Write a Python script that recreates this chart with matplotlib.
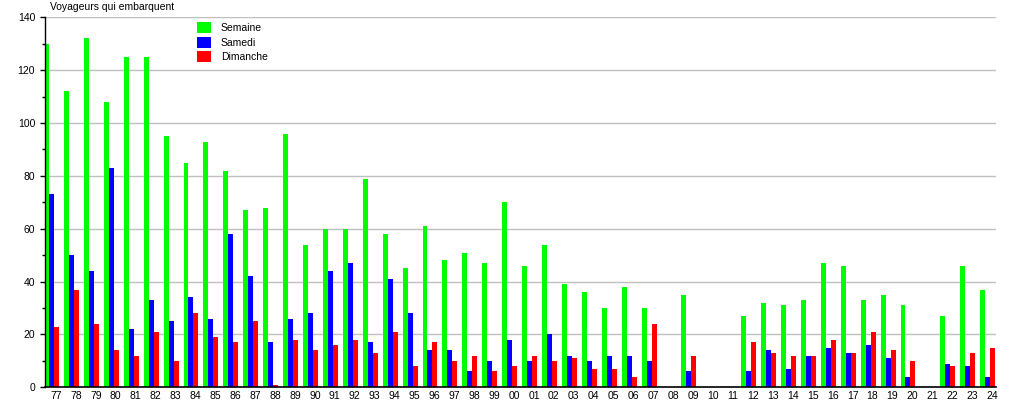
import numpy as np
import matplotlib
matplotlib.use("Agg")
import matplotlib.pyplot as plt
from matplotlib.ticker import MultipleLocator

plt.rcParams['font.family'] = ['Liberation Sans', 'DejaVu Sans']

# years 1977 -> 2024, two-digit labels
years = ['77', '78', '79', '80', '81', '82', '83', '84', '85', '86', '87', '88',
         '89', '90', '91', '92', '93', '94', '95', '96', '97', '98', '99', '00',
         '01', '02', '03', '04', '05', '06', '07', '08', '09', '10', '11', '12',
         '13', '14', '15', '16', '17', '18', '19', '20', '21', '22', '23', '24']

semaine = [130, 112, 132, 108, 125, 125, 95, 85, 93, 82, 67, 68,
           96, 54, 60, 60, 79, 58, 45, 61, 48, 51, 47, 70,
           46, 54, 39, 36, 30, 38, 30, 0, 35, 0, 0, 27,
           32, 31, 33, 47, 46, 33, 35, 31, 0, 27, 46, 37]

samedi = [73, 50, 44, 83, 22, 33, 25, 34, 26, 58, 42, 17,
          26, 28, 44, 47, 17, 41, 28, 14, 14, 6, 10, 18,
          10, 20, 12, 10, 12, 12, 10, 0, 6, 0, 0, 6,
          14, 7, 12, 15, 13, 16, 11, 4, 0, 9, 8, 4]

dimanche = [23, 37, 24, 14, 12, 21, 10, 28, 19, 17, 25, 1,
            18, 14, 16, 18, 13, 21, 8, 17, 10, 12, 6, 8,
            12, 10, 11, 7, 7, 4, 24, 0, 12, 0, 0, 17,
            13, 12, 12, 18, 13, 21, 14, 10, 0, 8, 13, 15]

x = np.arange(len(years))
w = 0.25

fig = plt.figure(figsize=(10.15, 4.0), dpi=100)
ax = fig.add_axes([45 / 1015, 1 - 387.3 / 400, 951 / 1015, 370 / 400])

ax.bar(x - w, semaine, w, color='#00ff00', label='Semaine', zorder=2)
ax.bar(x, samedi, w, color='#0000ff', label='Samedi', zorder=2)
ax.bar(x + w, dimanche, w, color='#ff0000', label='Dimanche', zorder=2)

ax.set_xlim(-0.33, 47.42)
ax.set_ylim(0, 140)

ax.yaxis.set_major_locator(MultipleLocator(20))
ax.yaxis.set_minor_locator(MultipleLocator(10))
ax.grid(axis='y', which='major', color='#c0c0c0', linewidth=1, zorder=0)
ax.set_axisbelow(True)

ax.set_xticks(x + 0.22)
ax.set_xticklabels(years)
ax.tick_params(axis='x', length=0, pad=2.5, labelsize=7.5)
ax.tick_params(axis='y', which='major', length=3.6, width=1, pad=3.5, labelsize=7.5)
ax.tick_params(axis='y', which='minor', length=2.2, width=1)

for s in ['top', 'right']:
    ax.spines[s].set_visible(False)
ax.spines['left'].set_linewidth(1)
ax.spines['bottom'].set_linewidth(1.2)

fig.text(50 / 1015, 1 - 7 / 400, 'Voyageurs qui embarquent', fontsize=7.5,
         va='center', ha='left')

ax.legend(loc='upper left', bbox_to_anchor=(197 / 1015, 1 - 22 / 400),
          bbox_transform=fig.transFigure, frameon=False, fontsize=7.5,
          handlelength=1.35, handleheight=1.25, handletextpad=0.93,
          labelspacing=0.34, borderpad=0, borderaxespad=0)

fig.savefig('out.png', dpi=100)
